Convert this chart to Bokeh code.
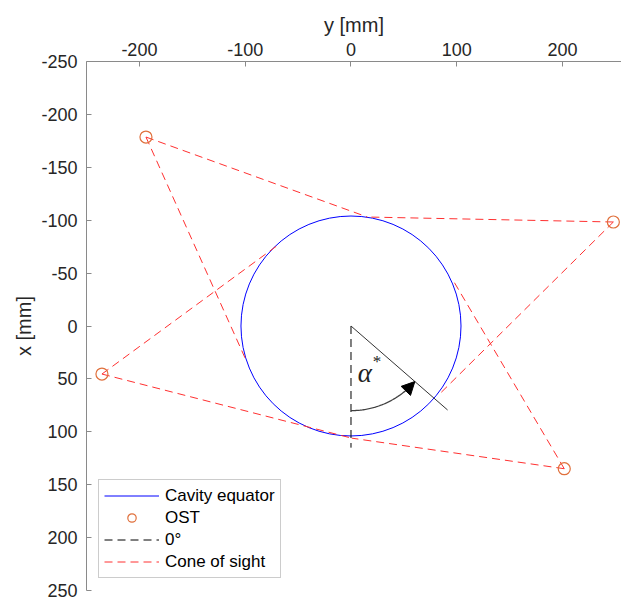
import numpy as np
from bokeh.plotting import figure
from bokeh.models import Range1d, FixedTicker, Legend, LegendItem, Arrow, NormalHead
from bokeh.core.properties import value
from bokeh.embed import file_html
from bokeh.resources import INLINE

# ---- data (mm) ----
cavity_radius = 104.0
ost_y = [-193.8, 248.0, -235.4, 201.6]
ost_x = [-178.6, -98.3, 45.4, 134.9]
# end points of the cone-of-sight lines (two per OST)
sight_start_y = [-193.8, -193.8, 248.0, 248.0, -235.4, -235.4, 201.6, 201.6]
sight_start_x = [-178.6, -178.6, -98.3, -98.3, 45.4, 45.4, 134.9, 134.9]
sight_end_y = [15.5, -100.0, 16.0, 84.0, -67.0, 0.7, 0.7, 96.0]
sight_end_x = [-103.0, 30.5, -103.0, 64.0, -78.0, 106.0, 106.0, -44.0]
zero_line_len = 115.0
alpha_deg = 49.0
alpha_line_len = 121.0
arc_radius = 80.0

y_ticks = [-250, -200, -150, -100, -50, 0, 50, 100, 150, 200, 250]
x_ticks = [-200, -100, 0, 100, 200]

FONT = "Liberation Sans"
TXT = "#262626"
AX = "#8a8a8a"

p = figure(width=621, height=602, output_backend="svg", toolbar_location=None,
           x_range=Range1d(-250, 255.7), y_range=Range1d(250, -250),
           x_axis_location="above", min_border_left=86, min_border_right=0,
           min_border_top=61, min_border_bottom=12)
p.grid.visible = False
p.outline_line_color = None
p.background_fill_color = "white"

for ax in (p.xaxis[0], p.yaxis[0]):
    ax.axis_line_color = AX
    ax.major_tick_line_color = AX
    ax.major_tick_in = 5
    ax.major_tick_out = 0
    ax.minor_tick_line_color = None
    ax.major_label_text_font = FONT
    ax.major_label_text_font_size = "18px"
    ax.major_label_text_color = TXT
    ax.axis_label_text_font = FONT
    ax.axis_label_text_font_size = "20px"
    ax.axis_label_text_font_style = "normal"
    ax.axis_label_text_color = TXT

p.xaxis.ticker = FixedTicker(ticks=x_ticks)
p.yaxis.ticker = FixedTicker(ticks=y_ticks)
p.xaxis.major_label_overrides = {t: str(t) for t in x_ticks}
p.yaxis.major_label_overrides = {t: str(t) for t in y_ticks}
p.xaxis.axis_label = "y [mm]"
p.yaxis.axis_label = "x [mm]"
p.xaxis.major_label_standoff = 6
p.xaxis.axis_label_standoff = 4
p.yaxis.major_label_standoff = 9
p.yaxis.axis_label_standoff = 3

# cavity equator
r_cav = p.arc(x=[0], y=[0], radius=cavity_radius, start_angle=0, end_angle=2 * np.pi,
              line_color="#0000FF", line_width=1)

# cone of sight
xs = [[a, b] for a, b in zip(sight_start_y, sight_end_y)]
ys = [[a, b] for a, b in zip(sight_start_x, sight_end_x)]
r_cone = p.multi_line(xs=xs, ys=ys, line_color="#FF3030", line_width=1, line_dash="8 5")

# 0 degree line
r_zero = p.line(x=[0, 0], y=[0, zero_line_len], line_color="black", line_width=1, line_dash="8 5")

# alpha line
a = np.deg2rad(alpha_deg)
p.line(x=[0, alpha_line_len * np.sin(a)], y=[0, alpha_line_len * np.cos(a)],
       line_color="#333333", line_width=1)

# arc with arrow
th = np.linspace(0, a - np.deg2rad(4), 60)
p.line(x=arc_radius * np.sin(th), y=arc_radius * np.cos(th), line_color="#404040", line_width=1.3)
t0 = a - np.deg2rad(6)
arrow = Arrow(end=NormalHead(size=13, fill_color="black", line_color="black"),
              x_start=arc_radius * np.sin(t0), y_start=arc_radius * np.cos(t0),
              x_end=arc_radius * np.sin(a), y_end=arc_radius * np.cos(a),
              line_alpha=0)
p.add_layout(arrow)

# alpha* label
p.text(x=[13], y=[44], text=["α"], text_font=value("Liberation Serif"), text_font_style="italic",
       text_font_size="27px", text_align="center", text_baseline="middle", text_color="#222222")
p.text(x=[24.5], y=[34], text=["*"], text_font=value("Liberation Serif"),
       text_font_size="17px", text_align="center", text_baseline="middle", text_color="#222222")

# OST markers
r_ost = p.scatter(x=ost_y, y=ost_x, marker="circle", size=12, fill_color=None,
                  line_color="#E0703C", line_width=1.2)

legend = Legend(items=[
    LegendItem(label="Cavity equator", renderers=[r_cav]),
    LegendItem(label="OST", renderers=[r_ost]),
    LegendItem(label="0°", renderers=[r_zero]),
    LegendItem(label="Cone of sight", renderers=[r_cone]),
], location=(12, 12), label_text_font=FONT, label_text_font_size="17px",
    label_text_color="black", glyph_width=55, glyph_height=21, label_height=21,
    label_standoff=6, spacing=1, padding=5, margin=0,
    border_line_color="#999999", border_line_width=1,
    background_fill_color="white", background_fill_alpha=1)
p.add_layout(legend, "center")

open("out.html", "w").write(file_html(p, INLINE))
